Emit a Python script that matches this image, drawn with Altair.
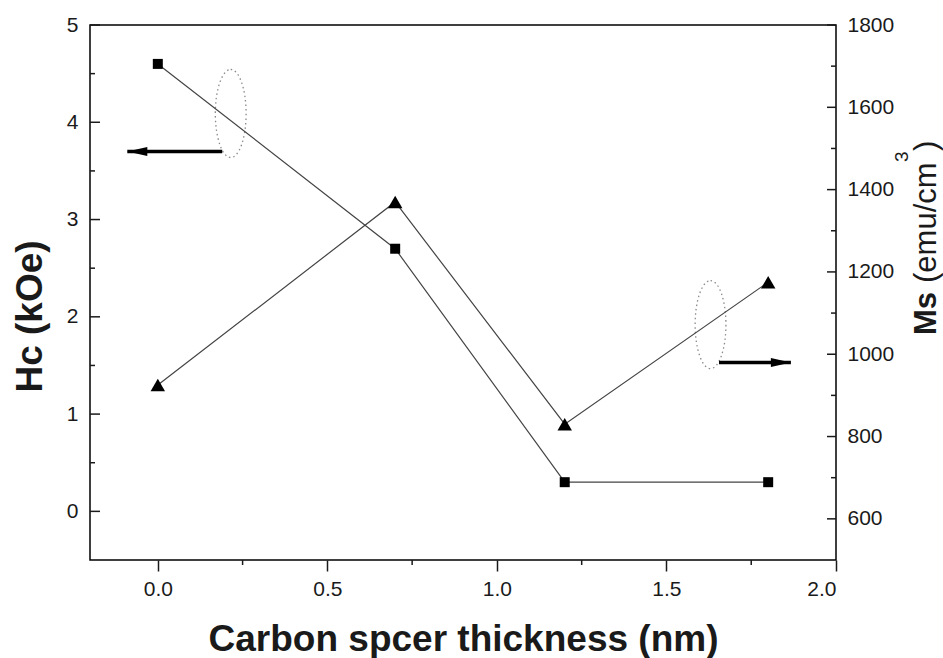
import altair as alt
import pandas as pd

# Measured values
thickness = [0.0, 0.7, 1.2, 1.8]          # carbon spacer thickness (nm)
hc_koe = [4.6, 2.7, 0.3, 0.3]             # coercivity Hc (kOe)
ms_emu = [925, 1370, 830, 1175]           # saturation magnetisation Ms (emu/cm3)

# Axis tick values
x_major = [0.0, 0.5, 1.0, 1.5, 2.0]
x_minor = [0.25, 0.75, 1.25, 1.75]
hc_major = [0, 1, 2, 3, 4, 5]
hc_minor = [0.5, 1.5, 2.5, 3.5, 4.5]
ms_major = [600, 800, 1000, 1200, 1400, 1600, 1800]
ms_minor = [700, 900, 1100, 1300, 1500, 1700]

# Annotation anchors in data units: arrows (tail, tip) and dotted ellipses
hc_arrow_x = [0.19, -0.09]
hc_arrow_y = [3.7, 3.7]
ms_arrow_x = [1.655, 1.867]
ms_arrow_y = [980, 980]
ring_x = [0.215, 1.63]
ring_hc = [4.09, 1.92]

W, H = 746, 535
FONT = "Liberation Sans"
INK = "#1a1a1a"
LABEL_SIZE = 21

x_scale = alt.Scale(domain=[-0.2, 2.0], nice=False, zero=False)
hc_scale = alt.Scale(domain=[-0.5, 5.0], nice=False, zero=False)
ms_scale = alt.Scale(domain=[500, 1800], nice=False, zero=False)

x_axis = alt.Axis(
    values=x_major, format=".1f", grid=False, domain=False,
    tickSize=11, tickWidth=1.5, tickColor=INK,
    labelFont=FONT, labelFontSize=LABEL_SIZE, labelColor=INK, labelPadding=7,
    title="Carbon spcer thickness (nm)", titleFont=FONT, titleFontSize=37,
    titleFontWeight="bold", titleColor=INK, titleBaseline="alphabetic",
    titleY=90,
)
hc_axis = alt.Axis(
    values=hc_major, format="d", grid=False, domain=False, ticks=False,
    labelFont=FONT, labelFontSize=LABEL_SIZE, labelColor=INK, labelPadding=12,
    title="Hc (kOe)", titleFont=FONT, titleFontSize=37, titleFontWeight="bold",
    titleColor=INK, titleAngle=270, titleBaseline="alphabetic",
    titleAlign="center", titleX=-49, titleY=291,
)
ms_axis = alt.Axis(
    values=ms_major, format="d", grid=False, domain=False, ticks=False,
    orient="right", labelFont=FONT, labelFontSize=LABEL_SIZE, labelColor=INK,
    labelPadding=11, title=None,
)


def X(field):
    return alt.X(f"{field}:Q", scale=x_scale, axis=x_axis)


def Yhc(field):
    return alt.Y(f"{field}:Q", scale=hc_scale, axis=hc_axis)


def Yms(field):
    return alt.Y(f"{field}:Q", scale=ms_scale, axis=ms_axis)


data = pd.DataFrame({"t": thickness, "hc": hc_koe, "ms": ms_emu})

# ---- Hc series (squares, left axis) ----
hc_line = alt.Chart(data).mark_line(color="#444", strokeWidth=1.2).encode(
    x=X("t"), y=Yhc("hc"))
hc_pts = alt.Chart(data).mark_point(
    shape="square", filled=True, color="black", size=100, opacity=1
).encode(x=X("t"), y=Yhc("hc"))

hc_tick_major = alt.Chart(pd.DataFrame({"v": hc_major})).mark_rule(
    color=INK, strokeWidth=1.5).encode(
    x=alt.value(0), x2=alt.value(10), y=Yhc("v"))
hc_tick_minor = alt.Chart(pd.DataFrame({"v": hc_minor})).mark_rule(
    color=INK, strokeWidth=1.5).encode(
    x=alt.value(0), x2=alt.value(5), y=Yhc("v"))

x_tick_minor = alt.Chart(pd.DataFrame({"v": x_minor})).mark_rule(
    color=INK, strokeWidth=1.5).encode(
    x=X("v"), y=alt.value(H), y2=alt.value(H + 5))

hc_arrow = pd.DataFrame({"x0": [hc_arrow_x[0]], "x1": [hc_arrow_x[1]],
                         "y": [hc_arrow_y[0]]})
hc_shaft = alt.Chart(hc_arrow).mark_rule(color="black", strokeWidth=3.5).encode(
    x=X("x0"), x2="x1:Q", y=Yhc("y"))
hc_head = alt.Chart(hc_arrow).mark_point(
    shape="M0,0 L2,-0.45 L2,0.45 Z", filled=True, color="black", size=400,
    opacity=1).encode(x=X("x1"), y=Yhc("y"))

ellipse_path = ("M0,-1 C0.193,-1 0.35,-0.552 0.35,0 C0.35,0.552 0.193,1 0,1 "
                "C-0.193,1 -0.35,0.552 -0.35,0 C-0.35,-0.552 -0.193,-1 0,-1 Z")
rings = alt.Chart(pd.DataFrame({"x": ring_x, "y": ring_hc})).mark_point(
    shape=ellipse_path, filled=False, color="#8a8a8a", strokeWidth=1.3,
    strokeDash=[1.5, 3], size=7744, opacity=1).encode(x=X("x"), y=Yhc("y"))

hc_group = alt.layer(hc_tick_major, hc_tick_minor, x_tick_minor, rings,
                     hc_line, hc_pts, hc_shaft, hc_head)

# ---- Ms series (triangles, right axis) ----
ms_line = alt.Chart(data).mark_line(color="#444", strokeWidth=1.2).encode(
    x=X("t"), y=Yms("ms"))
ms_pts = alt.Chart(data).mark_point(
    shape="triangle-up", filled=True, color="black", size=210, opacity=1
).encode(x=X("t"), y=Yms("ms"))

ms_tick_major = alt.Chart(pd.DataFrame({"v": ms_major})).mark_rule(
    color=INK, strokeWidth=1.5).encode(
    x=alt.value(W), x2=alt.value(W - 9), y=Yms("v"))
ms_tick_minor = alt.Chart(pd.DataFrame({"v": ms_minor})).mark_rule(
    color=INK, strokeWidth=1.5).encode(
    x=alt.value(W), x2=alt.value(W - 5), y=Yms("v"))

ms_arrow = pd.DataFrame({"x0": [ms_arrow_x[0]], "x1": [ms_arrow_x[1]],
                         "y": [ms_arrow_y[0]]})
ms_shaft = alt.Chart(ms_arrow).mark_rule(color="black", strokeWidth=3.5).encode(
    x=X("x0"), x2="x1:Q", y=Yms("y"))
ms_head = alt.Chart(ms_arrow).mark_point(
    shape="M0,0 L-2,-0.45 L-2,0.45 Z", filled=True, color="black", size=400,
    opacity=1).encode(x=X("x1"), y=Yms("y"))


# Right-hand axis title: bold "Ms", regular unit with superscript 3
def title_piece(text, y, x=846, size=31, weight="normal"):
    return alt.Chart(pd.DataFrame({"s": [text]})).mark_text(
        font=FONT, fontSize=size, fontWeight=weight, color=INK, angle=270,
        align="left", baseline="alphabetic").encode(
        x=alt.value(x), y=alt.value(y), text="s:N")


ms_title = alt.layer(
    title_piece("Ms", 310, weight="bold"),
    title_piece("(emu/cm", 258),
    title_piece("3", 137, x=818, size=19),
    title_piece(")", 126),
)

ms_group = alt.layer(ms_tick_major, ms_tick_minor, ms_line, ms_pts,
                     ms_shaft, ms_head, ms_title)

chart = (
    alt.layer(hc_group, ms_group)
    .resolve_scale(y="independent")
    .properties(
        width=W, height=H,
        padding={"left": 90, "top": 25, "right": 107, "bottom": 98},
        autosize=alt.AutoSizeParams(type="none"),
        background="white",
    )
    .configure_view(stroke="black", strokeWidth=1.5)
)

chart.save("out.html", embed_options={"renderer": "svg", "actions": False})
